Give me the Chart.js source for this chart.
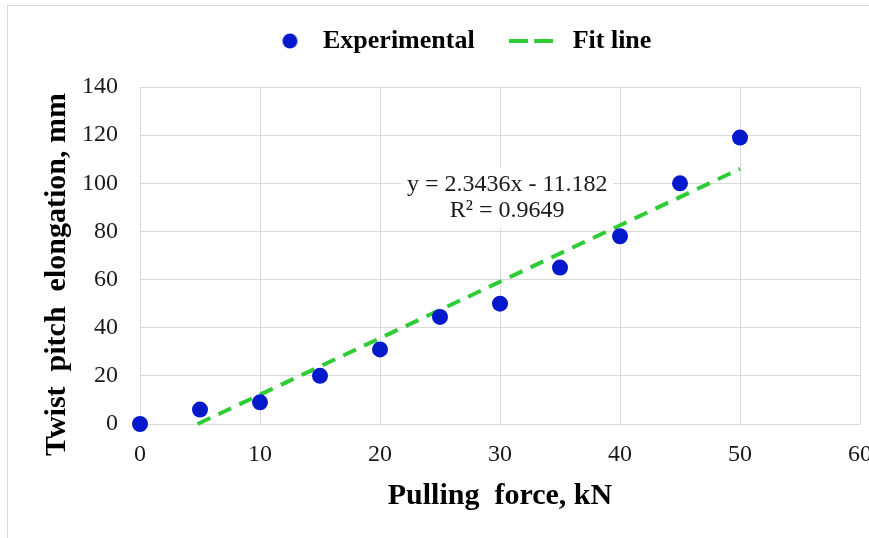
<!DOCTYPE html>
<html>
<head>
<meta charset="utf-8">
<script src="https://cdn.jsdelivr.net/npm/chart.js@4.4.1/dist/chart.umd.min.js"></script>
<style>
  html, body { margin: 0; padding: 0; background: #ffffff; }
  canvas { display: block; }
</style>
</head>
<body>
<canvas id="chart" width="869" height="538"></canvas>
<script>
// ---- data ----
const forceKN       = [0, 5, 10, 15, 20, 25, 30, 35, 40, 45, 50];
const elongationMM  = [0, 6, 9, 20, 31, 44.5, 50, 65, 78, 100, 119];
const fitForceKN    = [4.8, 50];
const fitElongation = [0, 106];
const xTickValues   = [0, 10, 20, 30, 40, 50, 60];
const yTickValues   = [0, 20, 40, 60, 80, 100, 120, 140];
const seriesNames   = ['Experimental', 'Fit line'];
const xAxisTitle    = 'Pulling  force, kN';
const yAxisTitle    = 'Twist  pitch  elongation, mm';
const equationLines = ['y = 2.3436x - 11.182', 'R\u00B2 = 0.9649'];

// ---- styling / placement ----
const SERIF = '"Liberation Serif", "Times New Roman", serif';
const BLUE = '#0418cc';
const GREEN = '#2ecc35';
const GRID = '#d9d9d9';
const LEGEND_H = 87;
const LEGEND_PAD = 28;
const LEGEND_FONT = 26;
const LEGEND_BOX_W = 57;
const LEGEND_FIRST_X = 253;
const Y_TITLE_SHIFT = 19;
const equationAnchor = { x: 30.6, y: 99.5 };

function circleImage() {
  const c = document.createElement('canvas');
  c.width = 34; c.height = 16;
  const g = c.getContext('2d');
  g.fillStyle = BLUE;
  g.beginPath(); g.arc(25.5, 8, 7.5, 0, Math.PI * 2); g.fill();
  return c;
}
function dashImage() {
  const c = document.createElement('canvas');
  c.width = 44; c.height = 6;
  const g = c.getContext('2d');
  g.fillStyle = GREEN;
  g.fillRect(0, 1, 19, 4);
  g.fillRect(25, 1, 19, 4);
  return c;
}
const legendImages = [circleImage(), dashImage()];

const helper = {
  id: 'helper',
  beforeLayout(chart) {
    const lg = chart.legend;
    if (lg && !lg._fixedFit) {
      const orig = lg.fit;
      lg.fit = function () { orig.call(this); this.height = LEGEND_H; };
      lg._fixedFit = true;
    }
  },
  afterLayout(chart) {
    const lg = chart.legend;
    if (lg && lg.lineWidths) {
      const cursorX = (lg.left + LEGEND_PAD + lg.right - lg.lineWidths[0]) / 2;
      const shift = LEGEND_FIRST_X - cursorX;
      lg.left += shift; lg.right += shift;
    }
    const ys = chart.scales.y;
    ys.bottom += Y_TITLE_SHIFT * 2;
  },
  beforeDraw(chart) {
    const ctx = chart.ctx;
    ctx.save();
    ctx.fillStyle = '#ffffff';
    ctx.fillRect(0, 0, chart.width, chart.height);
    ctx.strokeStyle = '#d9d9d9';
    ctx.lineWidth = 1;
    ctx.strokeRect(7.5, 5.5, 1000, 1000);
    ctx.restore();
  },
  beforeDatasetsDraw(chart) {
    const ctx = chart.ctx;
    const xs = chart.scales.x, ys = chart.scales.y;
    const cx = xs.getPixelForValue(equationAnchor.x);
    const cy = ys.getPixelForValue(equationAnchor.y);
    ctx.save();
    ctx.font = '24px ' + SERIF;
    const w = Math.max(...equationLines.map(t => ctx.measureText(t).width));
    const lh = 26;
    ctx.fillStyle = '#ffffff';
    ctx.fillRect(cx - w / 2 - 6, cy - 17, w + 12, lh * (equationLines.length - 1) + 35);
    ctx.fillStyle = '#1a1a1a';
    ctx.textAlign = 'center';
    ctx.textBaseline = 'middle';
    equationLines.forEach((t, i) => ctx.fillText(t, cx, cy + i * lh));
    ctx.restore();
  }
};

new Chart(document.getElementById('chart'), {
  type: 'scatter',
  data: {
    datasets: [
      {
        label: seriesNames[0],
        data: forceKN.map((x, i) => ({ x, y: elongationMM[i] })),
        backgroundColor: BLUE,
        borderColor: BLUE,
        pointRadius: 8,
        pointHoverRadius: 8,
        pointBorderWidth: 0,
        showLine: false,
        clip: false,
        order: 0
      },
      {
        type: 'line',
        label: seriesNames[1],
        data: fitForceKN.map((x, i) => ({ x, y: fitElongation[i] })),
        borderColor: GREEN,
        backgroundColor: GREEN,
        borderWidth: 4,
        borderDash: [14, 9],
        pointRadius: 0,
        fill: false,
        tension: 0,
        clip: false,
        order: 1
      }
    ]
  },
  options: {
    responsive: false,
    animation: false,
    events: [],
    layout: { padding: { top: 0, left: 0, right: 9, bottom: 0 } },
    plugins: {
      tooltip: { enabled: false },
      legend: {
        display: true,
        position: 'top',
        align: 'center',
        labels: {
          usePointStyle: true,
          pointStyleWidth: LEGEND_BOX_W,
          padding: LEGEND_PAD,
          color: '#000000',
          font: { family: SERIF, size: LEGEND_FONT, weight: 'bold' },
          generateLabels(chart) {
            const items = Chart.defaults.plugins.legend.labels.generateLabels(chart);
            items.forEach((it, i) => { it.pointStyle = legendImages[i]; });
            return items;
          }
        }
      }
    },
    scales: {
      x: {
        type: 'linear',
        min: 0, max: 60,
        afterBuildTicks(scale) { scale.ticks = xTickValues.map(v => ({ value: v })); },
        afterFit(scale) { scale.height = 114; scale.paddingLeft = 0; scale.paddingRight = 0; },
        grid: { color: GRID, lineWidth: 1, drawTicks: false },
        border: { display: false },
        ticks: {
          padding: 16, maxRotation: 0, autoSkip: false,
          color: '#1a1a1a',
          font: { family: SERIF, size: 24 }
        },
        title: {
          display: true, text: xAxisTitle, color: '#000000',
          font: { family: SERIF, size: 30, weight: 'bold' },
          padding: { top: 0, bottom: 24 }
        }
      },
      y: {
        type: 'linear',
        min: 0, max: 140,
        afterBuildTicks(scale) { scale.ticks = yTickValues.map(v => ({ value: v })); },
        afterFit(scale) { scale.width = 140; scale.paddingTop = 0; scale.paddingBottom = 0; },
        grid: { color: GRID, lineWidth: 1, drawTicks: false },
        border: { display: false },
        ticks: {
          padding: 22, autoSkip: false,
          color: '#1a1a1a',
          font: { family: SERIF, size: 24 }
        },
        title: {
          display: true, text: yAxisTitle, color: '#000000',
          font: { family: SERIF, size: 30, weight: 'bold' },
          padding: { top: 39, bottom: 0 }
        }
      }
    }
  },
  plugins: [helper]
});
</script>
</body>
</html>
